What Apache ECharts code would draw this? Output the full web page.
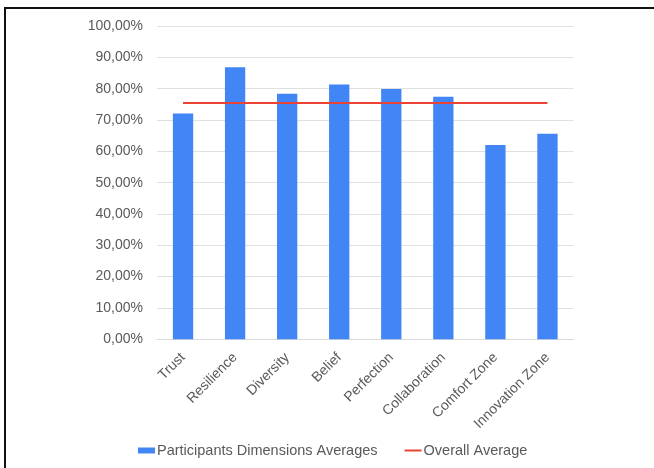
<!DOCTYPE html>
<html>
<head>
<meta charset="utf-8">
<script src="https://cdn.jsdelivr.net/npm/echarts@6/dist/echarts.min.js"></script>
<style>
html,body{margin:0;padding:0;background:#fff;}
#chart{width:654px;height:468px;}
</style>
</head>
<body>
<div id="chart"></div>
<script>
const categories = ['Trust','Resilience','Diversity','Belief','Perfection','Collaboration','Comfort Zone','Innovation Zone'];
const dimensionAverages = [72.1, 86.8, 78.4, 81.3, 79.9, 77.4, 62.0, 65.6];
const overallAverage = [75.4, 75.4, 75.4, 75.4, 75.4, 75.4, 75.4, 75.4];
const seriesNames = ['Participants Dimensions Averages', 'Overall Average'];

const chart = echarts.init(document.getElementById('chart'));
const fontFamily = 'Liberation Sans, Arial, sans-serif';
chart.setOption({
  backgroundColor: '#fff',
  animation: false,
  textStyle: { fontFamily: fontFamily },
  graphic: [
    { type: 'line', shape: { x1: 4, y1: 8, x2: 654, y2: 8 }, style: { stroke: '#111', lineWidth: 2 } },
    { type: 'line', shape: { x1: 5, y1: 7, x2: 5, y2: 468 }, style: { stroke: '#111', lineWidth: 2 } }
  ],
  grid: { left: 157, right: 80.5, top: 26, bottom: 128.7, containLabel: false },
  legend: {
    left: 133, top: 438,
    itemGap: 27, itemWidth: 17, itemHeight: 6,
    textStyle: { fontSize: 14.5, color: '#595959', fontFamily: fontFamily, padding: [0,0,0,-3] },
    data: [
      { name: seriesNames[0], icon: 'rect' },
      { name: seriesNames[1], icon: 'path://M0,0M0,6M0,2H17V4H0Z' }
    ]
  },
  xAxis: {
    type: 'category',
    data: categories,
    axisTick: { show: false },
    axisLine: { lineStyle: { color: '#d9d9d9' } },
    axisLabel: { rotate: 45, fontSize: 14, color: '#595959', margin: 16, interval: 0, fontFamily: fontFamily }
  },
  yAxis: {
    type: 'value',
    min: 0, max: 100, interval: 10,
    axisLine: { show: false },
    axisTick: { show: false },
    splitLine: { lineStyle: { color: '#e0e0e0' } },
    axisLabel: {
      fontSize: 14, color: '#595959', margin: 14, fontFamily: fontFamily,
      formatter: v => v.toFixed(2).replace('.', ',') + '%'
    }
  },
  series: [
    {
      name: seriesNames[0], type: 'bar', data: dimensionAverages,
      barWidth: '39%', itemStyle: { color: '#4285F4' }
    },
    {
      name: seriesNames[1], type: 'line', data: overallAverage,
      symbol: 'none', lineStyle: { color: '#EA4335', width: 2 }, itemStyle: { color: '#EA4335' }
    }
  ]
});
</script>
</body>
</html>
